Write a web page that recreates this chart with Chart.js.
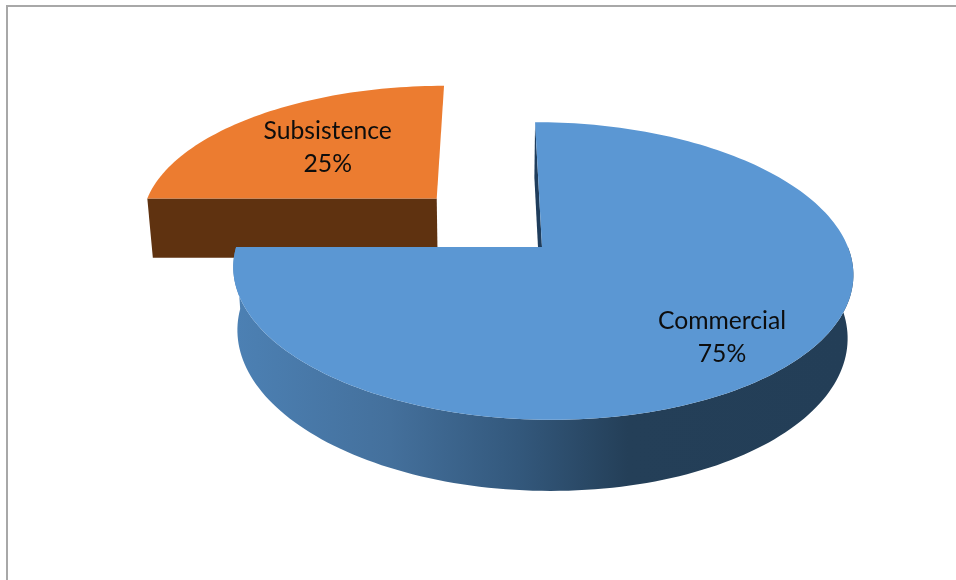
<!DOCTYPE html>
<html>
<head>
<meta charset="utf-8">
<script src="https://cdn.jsdelivr.net/npm/chart.js@4"></script>
<style>
    html, body { margin: 0; padding: 0; background: #fff; }
    #frame { position: absolute; left: 6px; top: 5px; width: 950px; height: 575px; box-sizing: border-box; border-top: 2px solid #a8a8a8; border-left: 2px solid #a8a8a8; }
    #wrap { position: absolute; left: 0; top: 0; width: 956px; height: 580px; }
</style>
</head>
<body>
<div id="frame"></div>
<div id="wrap"><canvas id="pieChart"></canvas></div>
<script>
// Chart data
const categories = ['Commercial', 'Subsistence'];
const shares = [75, 25];
const faceColors = ['#5b97d3', '#ec7c30'];
const wallColors = ['#1f3d5c', '#5f3210'];
// Wall shading from left to right of the blue slice
const wallStops = [[0, '#4c80b3'], [0.25, '#44709c'], [0.46, '#33587c'], [0.64, '#243f58'], [1, '#233e57']];
// Label anchors on the flat slice, in radius units from its tip
const labelSpots = [[0.52, 0.565], [-0.413, -0.42]];

// 3D view settings, all relative to the pie radius
const view = {
    sx: 1.549,     // horizontal stretch
    sy: 0.734,     // vertical squash
    tilt: 0.161,   // perspective strength
    shiftX: 0.253, // horizontal camera shift
    depth: 0.314,  // slice thickness
    shrink: 0.984  // bottom face scale
};

// Map a point on the flat pie (in radius units) to the screen
function project(arc, nx, ny, low) {
    const R = arc.outerRadius;
    const w = 1 - view.tilt * ny;
    const s = low ? view.shrink : 1;
    const camX = arc.x - view.shiftX * R;
    return {
        x: camX + s * R * (view.sx * nx + view.shiftX) / w,
        y: arc.y + (s * R * view.sy * ny + (low ? view.depth * R : 0)) / w
    };
}

function ringAngles(arc) {
    const list = [];
    const steps = Math.ceil((arc.endAngle - arc.startAngle) * 40);
    for (let i = 0; i <= steps; i++) {
        list.push(arc.startAngle + (arc.endAngle - arc.startAngle) * i / steps);
    }
    return list;
}

function fillPoly(ctx, pts, color) {
    ctx.beginPath();
    pts.forEach((p, i) => i ? ctx.lineTo(p.x, p.y) : ctx.moveTo(p.x, p.y));
    ctx.closePath();
    ctx.fillStyle = color;
    ctx.fill();
}

// Draws the pie arcs as extruded slices instead of flat ones
const pie3d = {
    id: 'pie3d',
    beforeDatasetDraw(chart) {
        const ctx = chart.ctx;
        const arcs = chart.getDatasetMeta(0).data;
        const tipOffset = arc => {
            const mid = (arc.startAngle + arc.endAngle) / 2;
            const off = arc.options.offset / arc.outerRadius;
            return [Math.cos(mid) * off, Math.sin(mid) * off];
        };

        // Back slice first so the big one sits on top
        [1, 0].forEach(idx => {
            const arc = arcs[idx];
            const [ox, oy] = tipOffset(arc);
            const angles = ringAngles(arc);
            const ring = (list, low) => list.map(a => project(arc, ox + Math.cos(a), oy + Math.sin(a), low));

            // Outer wall, only the part that faces the viewer
            const front = angles.filter(a => Math.sin(a) >= -1e-6);
            if (front.length > 1) {
                const upper = ring(front, false);
                const lower = ring(front, true);
                const xs = lower.map(p => p.x);
                const grad = ctx.createLinearGradient(Math.min(...xs), 0, Math.max(...xs), 0);
                wallStops.forEach(s => grad.addColorStop(s[0], s[1]));
                fillPoly(ctx, upper.concat(lower.reverse()), grad);
            }

            // Cut wall along the slice's starting radius
            const edge = ring([arc.startAngle], false)[0];
            const edgeLow = ring([arc.startAngle], true)[0];
            fillPoly(ctx, [project(arc, ox, oy, false), edge, edgeLow, project(arc, ox, oy, true)], wallColors[idx]);

            // Top face
            fillPoly(ctx, [project(arc, ox, oy, false)].concat(ring(angles, false)), faceColors[idx]);
        });

        // Labels go on last
        ctx.fillStyle = '#0d0d0d';
        ctx.font = '24.7px Lato, "Open Sans", sans-serif';
        ctx.textAlign = 'center';
        ctx.textBaseline = 'middle';
        arcs.forEach((arc, idx) => {
            const [ox, oy] = tipOffset(arc);
            const p = project(arc, ox + labelSpots[idx][0], oy + labelSpots[idx][1], false);
            ctx.fillText(categories[idx], p.x, p.y - 16.5);
            ctx.fillText(shares[idx] + '%', p.x, p.y + 16.5);
        });
        return false;
    }
};

new Chart(document.getElementById('pieChart'), {
    type: 'pie',
    data: {
        labels: categories,
        datasets: [{
            data: shares,
            backgroundColor: faceColors,
            borderWidth: 0,
            offset: [0, 99]
        }]
    },
    options: {
        responsive: true,
        maintainAspectRatio: false,
        animation: false,
        layout: { padding: { left: 128, bottom: 86 } },
        plugins: { legend: { display: false }, tooltip: { enabled: false } }
    },
    plugins: [pie3d]
});
</script>
</body>
</html>
